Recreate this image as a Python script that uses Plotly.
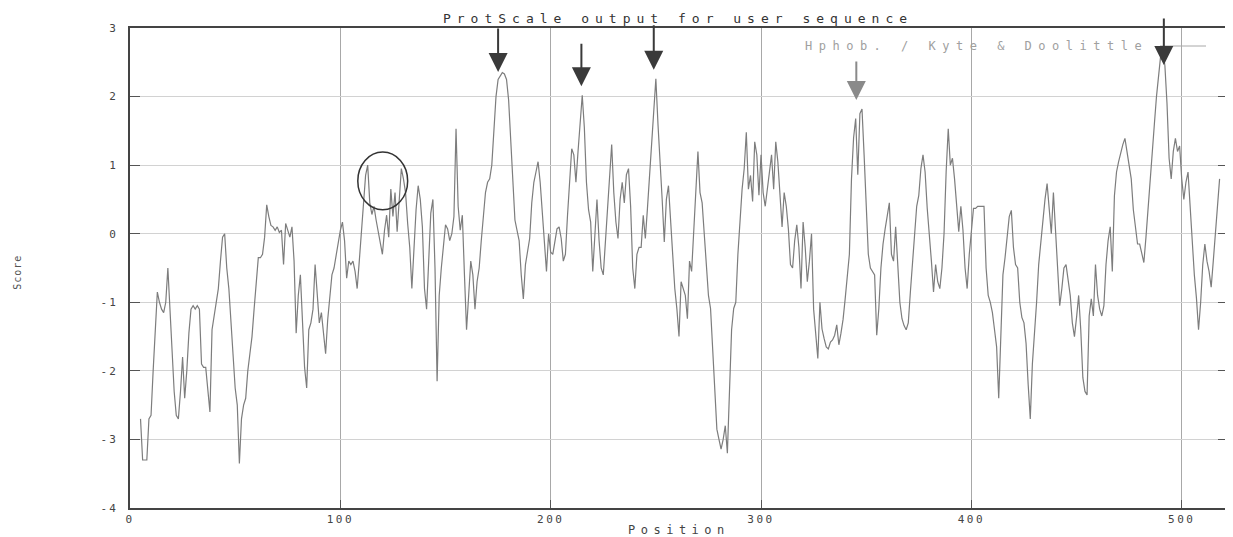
import plotly.graph_objects as go

# ---- data (Kyte & Doolittle hydropathy, window start at position 5) ----
start_position = 5
score = [
    -2.7, -3.3, -3.3, -3.3, -2.7, -2.65, -2.0, -1.5, -0.85, -1.0,          # 5-14
    -1.1, -1.15, -1.0, -0.5, -1.1, -1.8, -2.3, -2.65, -2.7, -2.3,          # 15-24
    -1.8, -2.4, -2.0, -1.45, -1.1, -1.05, -1.1, -1.05, -1.1, -1.9,         # 25-34
    -1.95, -1.95, -2.3, -2.6, -1.4, -1.2, -1.0, -0.8, -0.4, -0.05,         # 35-44
    0.0, -0.5, -0.8, -1.3, -1.65, -2.25, -2.5, -3.35, -2.7, -2.5,          # 45-54
    -2.4, -2.0, -1.75, -1.5, -1.1, -0.75, -0.35, -0.35, -0.3, -0.05,       # 55-64
    0.42, 0.25, 0.12, 0.1, 0.05, 0.1, 0.02, 0.05, -0.45, 0.15,             # 65-74
    0.05, -0.05, 0.1, -0.4, -1.45, -0.9, -0.6, -1.25, -1.95, -2.25,        # 75-84
    -1.4, -1.3, -1.1, -0.45, -0.85, -1.3, -1.15, -1.5, -1.75, -1.25,       # 85-94
    -0.9, -0.6, -0.5, -0.3, -0.1, 0.05, 0.17, -0.1, -0.65, -0.4,           # 95-104
    -0.45, -0.4, -0.55, -0.8, -0.4, 0.0, 0.4, 0.85, 1.0, 0.45,             # 105-114
    0.28, 0.4, 0.2, 0.05, -0.15, -0.3, 0.05, 0.27, -0.05, 0.65,            # 115-124
    0.25, 0.6, 0.03, 0.55, 0.95, 0.8, 0.6, 0.15, -0.2, -0.8,               # 125-134
    -0.1, 0.35, 0.7, 0.5, 0.1, -0.8, -1.1, -0.4, 0.3, 0.5,                 # 135-144
    -0.5, -2.15, -0.9, -0.5, -0.2, 0.13, 0.07, -0.1, 0.0, 0.25,            # 145-154
    1.53, 0.4, 0.05, 0.27, -0.6, -1.4, -0.9, -0.4, -0.6, -1.1,             # 155-164
    -0.7, -0.5, -0.1, 0.3, 0.6, 0.75, 0.8, 1.0, 1.55, 2.0,                 # 165-174
    2.25, 2.3, 2.35, 2.33, 2.25, 1.95, 1.35, 0.7, 0.2, 0.05,               # 175-184
    -0.1, -0.6, -0.95, -0.45, -0.25, -0.07, 0.45, 0.75, 0.9, 1.05,         # 185-194
    0.75, 0.3, -0.1, -0.55, 0.0, -0.27, -0.3, -0.1, 0.07, 0.1,             # 195-204
    -0.07, -0.4, -0.3, 0.27, 0.75, 1.24, 1.15, 0.75, 1.2, 1.6,             # 205-214
    2.02, 1.55, 0.75, 0.35, 0.17, -0.55, -0.1, 0.5, -0.1, -0.5,            # 215-224
    -0.6, -0.1, 0.37, 0.86, 1.3, 0.6, 0.17, -0.07, 0.5, 0.75,              # 225-234
    0.45, 0.86, 0.95, 0.4, -0.5, -0.8, -0.3, -0.2, -0.2, 0.27,             # 235-244
    -0.07, 0.37, 0.86, 1.34, 1.78, 2.26, 1.6, 0.95, 0.5, -0.12,            # 245-254
    0.5, 0.7, 0.2, -0.4, -0.8, -1.1, -1.5, -0.7, -0.8, -0.9,               # 255-264
    -1.24, -0.4, -0.55, 0.07, 0.8, 1.2, 0.6, 0.45, 0.0, -0.5,              # 265-274
    -0.9, -1.09, -1.62, -2.26, -2.85, -3.0, -3.14, -3.0, -2.8, -3.2,       # 275-284
    -2.35, -1.4, -1.09, -1.0, -0.3, 0.27, 0.65, 0.95, 1.48, 0.65,          # 285-294
    0.85, 0.47, 1.34, 1.15, 0.56, 1.15, 0.6, 0.4, 0.65, 0.9,               # 295-304
    1.15, 0.65, 1.34, 1.05, 0.5, 0.1, 0.6, 0.4, 0.07, -0.45,               # 305-314
    -0.5, -0.1, 0.13, -0.2, -0.8, 0.17, -0.2, -0.7, -0.4, 0.0,             # 315-324
    -1.1, -1.53, -1.82, -1.0, -1.39, -1.53, -1.65, -1.68, -1.58, -1.55,    # 325-334
    -1.48, -1.33, -1.62, -1.45, -1.25, -0.95, -0.6, -0.3, 0.8, 1.4,        # 335-344
    1.68, 0.86, 1.75, 1.82, 1.15, 0.3, -0.3, -0.5, -0.55, -0.6,            # 345-354
    -1.48, -1.09, -0.5, -0.15, 0.07, 0.3, 0.45, -0.3, -0.4, 0.1,           # 355-364
    -0.4, -1.0, -1.24, -1.34, -1.4, -1.3, -0.85, -0.4, 0.1, 0.4,           # 365-374
    0.56, 0.95, 1.15, 0.9, 0.37, 0.03, -0.4, -0.85, -0.45, -0.7,           # 375-384
    -0.8, -0.5, 0.0, 0.9, 1.53, 1.0, 1.1, 0.8, 0.4, 0.03,                  # 385-394
    0.4, 0.05, -0.5, -0.8, -0.3, 0.1, 0.37, 0.37, 0.4, 0.4,                # 395-404
    0.4, 0.4, -0.5, -0.9, -1.0, -1.15, -1.4, -1.65, -2.4, -1.5,            # 405-414
    -0.6, -0.35, 0.0, 0.25, 0.34, -0.2, -0.45, -0.5, -1.0, -1.22,          # 415-424
    -1.3, -1.6, -2.2, -2.7, -1.9, -1.5, -1.0, -0.45, -0.1, 0.2,            # 425-434
    0.5, 0.73, 0.3, 0.0, 0.6, 0.1, -0.5, -1.05, -0.8, -0.5,                # 435-444
    -0.45, -0.7, -0.9, -1.3, -1.5, -1.22, -0.9, -1.4, -2.1, -2.3,          # 445-454
    -2.35, -1.2, -0.95, -1.2, -0.45, -0.9, -1.1, -1.2, -1.05, -0.45,       # 455-464
    -0.1, 0.1, -0.55, 0.55, 0.9, 1.05, 1.2, 1.3, 1.39, 1.2,                # 465-474
    1.0, 0.8, 0.35, 0.05, -0.15, -0.15, -0.3, -0.42, -0.05, 0.4,           # 475-484
    0.73, 1.2, 1.6, 2.0, 2.35, 2.6, 2.67, 2.45, 1.9, 1.1,                  # 485-494
    0.8, 1.2, 1.39, 1.2, 1.28, 0.8, 0.5, 0.75, 0.9, 0.4,                   # 495-504
    -0.2, -0.6, -0.94, -1.4, -1.0, -0.45, -0.15, -0.4, -0.55, -0.78,       # 505-514
    -0.4, 0.05, 0.43, 0.8,                                                 # 515-518
]
position = list(range(start_position, start_position + len(score)))

x_ticks = [0, 100, 200, 300, 400, 500]
y_ticks = [3, 2, 1, 0, -1, -2, -3, -4]

# arrows marking the hydrophobic peaks (tip position, tip score)
arrow_pos = [175, 214.6, 249, 345.3, 491.5]
arrow_tip = [2.36, 2.15, 2.39, 1.95, 2.46]
arrow_len = [45, 44, 46, 40, 48]
arrow_col = ["#3a3a3a", "#3a3a3a", "#3a3a3a", "#8a8a8a", "#3a3a3a"]

# circled region
circle_x = [108.3, 132.0]
circle_y = [0.35, 1.19]

title_text = "ProtScale output for user sequence"
legend_text = "Hphob. / Kyte & Doolittle"

MONO = "DejaVu Sans Mono"

# page has an 8px body margin: size the figure so it fits the 1233x537 window
W, H = 1225, 529
ML, MR, MT, MB = 122, 5, 20, 29
PW = W - ML - MR
PH = H - MT - MB


def spaced(t, ls):
    return f'<span style="letter-spacing:{ls}px">{t}</span>'


fig = go.Figure()
fig.add_trace(go.Scatter(
    x=position, y=score, mode="lines",
    line=dict(color="#7d7d7d", width=1.2),
    showlegend=False, hoverinfo="skip",
))

fig.update_layout(
    width=W, height=H,
    margin=dict(l=ML, r=MR, t=MT, b=MB, autoexpand=False),
    paper_bgcolor="white", plot_bgcolor="white",
    title=dict(text=spaced(title_text, 6), x=670 / W, xanchor="center",
               y=1 - 10 / H, yanchor="middle", yref="container",
               font=dict(family=MONO, size=13, color="#333")),
    font=dict(family=MONO, color="#444"),
)

fig.update_xaxes(
    range=[0, 522],
    tickvals=x_ticks,
    ticktext=[spaced(str(v), 2.5) for v in x_ticks],
    tickfont=dict(family=MONO, size=11, color="#444"),
    showgrid=True, gridcolor="#a8a8a8", gridwidth=1,
    zeroline=False,
    showline=True, linecolor="#444", linewidth=2, mirror=True,
    ticks="inside", ticklen=8, tickcolor="#555",
)
fig.update_yaxes(
    range=[-4, 3],
    tickvals=y_ticks,
    ticktext=[spaced(str(v), 2) for v in y_ticks],
    tickfont=dict(family=MONO, size=11, color="#444"),
    ticklabelstandoff=8,
    showgrid=True, gridcolor="#d2d2d2", gridwidth=1,
    zeroline=False,
    showline=True, linecolor="#444", linewidth=2, mirror="ticks",
    ticks="inside", ticklen=10, tickcolor="#555",
)

# axis titles
fig.add_annotation(text=spaced("Position", 5.5), xref="paper", yref="paper",
                   x=0.5, y=0, yshift=-22, xanchor="center", yanchor="middle",
                   showarrow=False, font=dict(family=MONO, size=12, color="#444"))
fig.add_annotation(text=spaced("Score", 1), xref="paper", yref="paper",
                   x=0, xshift=-112, y=0.49, textangle=-90,
                   xanchor="center", yanchor="middle",
                   showarrow=False, font=dict(family=MONO, size=10, color="#555"))

# legend text + line sample
leg_y = (508 - 46) / PH
fig.add_annotation(text=spaced(legend_text, 6.5), xref="paper", yref="paper",
                   x=(1150 - 130) / PW, y=leg_y,
                   xanchor="right", yanchor="middle", showarrow=False,
                   font=dict(family=MONO, size=12, color="#a0a0a0"))
fig.add_shape(type="line", xref="paper", yref="paper",
              x0=(1160 - 130) / PW, x1=(1206 - 130) / PW,
              y0=leg_y, y1=leg_y,
              line=dict(color="#a8a8a8", width=1))

# arrows
for px_, py_, ln, col in zip(arrow_pos, arrow_tip, arrow_len, arrow_col):
    fig.add_annotation(x=px_, y=py_, xref="x", yref="y", text="",
                       showarrow=True, ax=0, ay=-ln, arrowhead=2,
                       arrowwidth=2, arrowsize=1.9, arrowcolor=col)

# circle
fig.add_shape(type="circle", xref="x", yref="y",
              x0=circle_x[0], x1=circle_x[1], y0=circle_y[0], y1=circle_y[1],
              line=dict(color="#333", width=1.5))

fig.write_html("out.html")
